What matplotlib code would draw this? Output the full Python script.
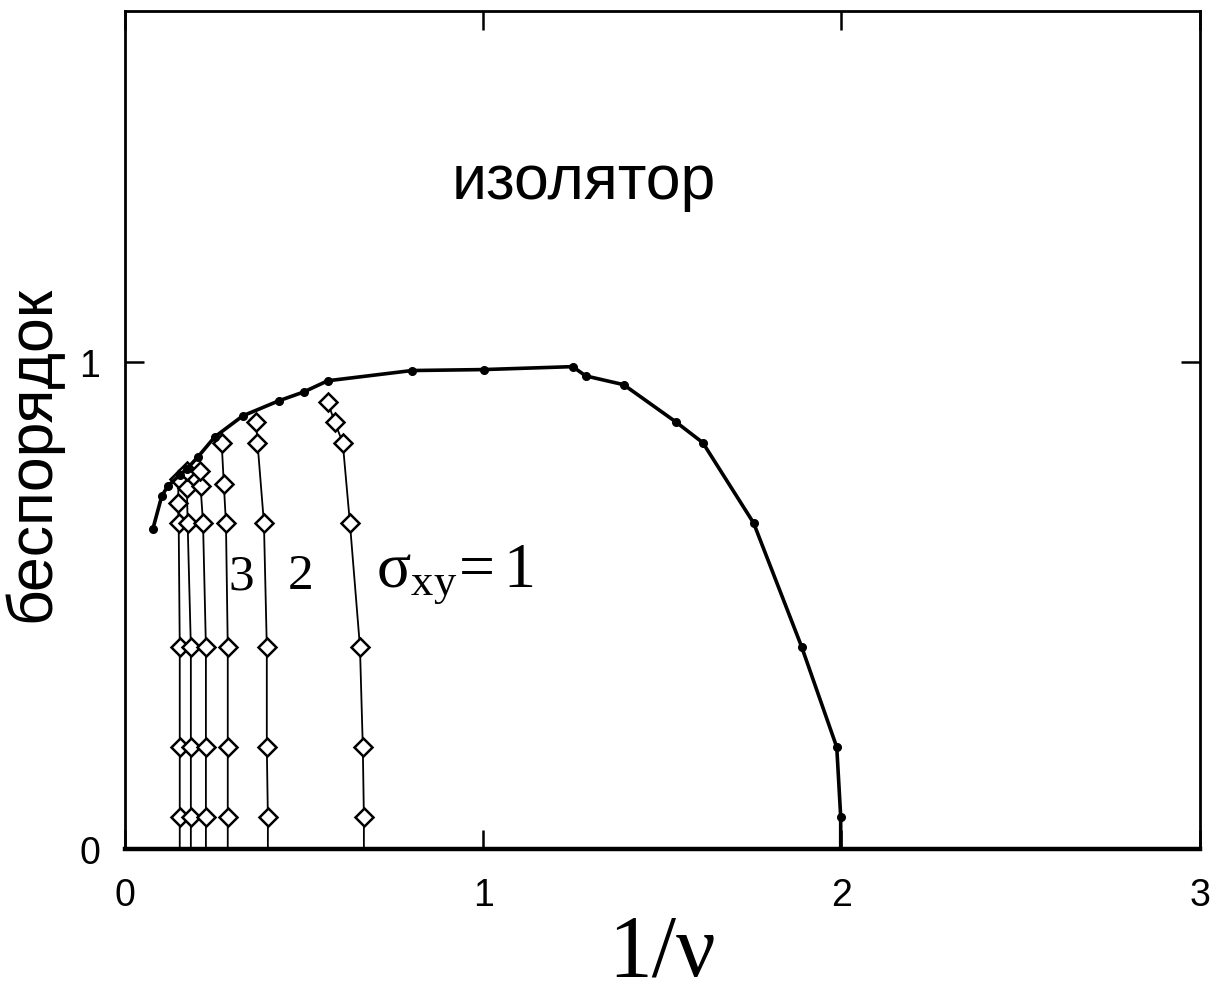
import matplotlib
matplotlib.use("Agg")
import matplotlib.pyplot as plt
from matplotlib import font_manager

# ---- data ----
# phase boundary (filled circles)
boundary_x = [0.078, 0.103, 0.120, 0.153, 0.173, 0.204, 0.251, 0.329, 0.430, 0.499,
              0.566, 0.801, 1.002, 1.250, 1.286, 1.392, 1.537, 1.613, 1.755, 1.889,
              1.987, 1.998, 1.998]
boundary_y = [0.657, 0.725, 0.745, 0.768, 0.780, 0.805, 0.846, 0.889, 0.920, 0.938,
              0.961, 0.982, 0.984, 0.990, 0.971, 0.953, 0.877, 0.834, 0.669, 0.415,
              0.209, 0.066, 0.0]

# plateau-transition lines (open diamonds), from left to right
colA_x = [0.153, 0.153, 0.153, 0.153, 0.150, 0.148, 0.150]
colA_y = [0.0, 0.066, 0.209, 0.415, 0.669, 0.710, 0.760]
colB_x = [0.184, 0.184, 0.184, 0.184, 0.175, 0.173, 0.172]
colB_y = [0.0, 0.066, 0.209, 0.415, 0.669, 0.740, 0.775]
colC_x = [0.226, 0.226, 0.226, 0.226, 0.218, 0.211, 0.209]
colC_y = [0.0, 0.066, 0.209, 0.415, 0.669, 0.745, 0.775]
colD_x = [0.287, 0.287, 0.287, 0.287, 0.282, 0.276, 0.270]
colD_y = [0.0, 0.066, 0.209, 0.415, 0.669, 0.749, 0.834]
colE_x = [0.399, 0.399, 0.396, 0.396, 0.388, 0.370, 0.366]
colE_y = [0.0, 0.066, 0.209, 0.415, 0.669, 0.834, 0.877]
colF_x = [0.667, 0.667, 0.664, 0.656, 0.628, 0.608, 0.585, 0.566]
colF_y = [0.0, 0.066, 0.209, 0.415, 0.669, 0.834, 0.877, 0.918]

columns = [(colA_x, colA_y), (colB_x, colB_y), (colC_x, colC_y),
           (colD_x, colD_y), (colE_x, colE_y), (colF_x, colF_y)]

x_ticks = [0, 1, 2, 3]
y_ticks = [0, 1]

# ---- fonts ----
avail = {f.name for f in font_manager.fontManager.ttflist}
tick_font = "Liberation Sans Narrow" if "Liberation Sans Narrow" in avail else "Liberation Sans"

plt.rcParams['mathtext.fontset'] = 'custom'
plt.rcParams['mathtext.rm'] = 'Liberation Serif'
plt.rcParams['mathtext.it'] = 'Liberation Serif:italic'

fig = plt.figure(figsize=(12.13, 9.95), dpi=100)
ax = fig.add_axes([0.103, 0.1457, 0.886, 0.8423])

ax.plot(boundary_x, boundary_y, color='black', lw=2.6, marker='o', ms=5.5,
        markevery=list(range(len(boundary_x) - 1)), zorder=3)

for cx, cy in columns:
    ax.plot(cx, cy, color='black', lw=1.3, marker='D', ms=9.5, mfc='white', mec='black',
            mew=1.8, markevery=list(range(1, len(cx))), zorder=2)

ax.set_xlim(0, 3)
ax.set_ylim(0, 1.72)
ax.set_xticks(x_ticks)
ax.set_yticks(y_ticks)
ax.set_xticklabels([str(t) for t in x_ticks], fontfamily=tick_font, fontsize=27)
ax.set_yticklabels([str(t) for t in y_ticks], fontfamily=tick_font, fontsize=27)
ax.tick_params(direction='in', length=14, width=1.8, top=True, right=True)
ax.tick_params(axis='x', pad=20)
ax.tick_params(axis='y', pad=18)

for s in ['left', 'right', 'top']:
    ax.spines[s].set_linewidth(2.0)
ax.spines['bottom'].set_linewidth(3.2)

ax.set_xlabel('1/ν', fontfamily='Liberation Serif', fontsize=63, labelpad=0)
ax.set_ylabel('беспорядок', fontfamily='Liberation Sans', fontsize=45)
ax.yaxis.set_label_coords(-0.058, 0.4726)

ax.text(1.28, 1.37, 'изолятор', fontfamily='Liberation Sans', fontsize=45,
        ha='center', va='center')
ax.text(0.325, 0.56, '3', fontfamily='Liberation Serif', fontsize=37, ha='center', va='center')
ax.text(0.49, 0.56, '2', fontfamily='Liberation Serif', fontsize=37, ha='center', va='center')
ax.text(0.70, 0.565, r'$\mathrm{σ}_{\mathrm{xy}}\!=\!\,\mathrm{1}$', fontsize=46,
        ha='left', va='center')

fig.savefig('out.png', dpi=100)
